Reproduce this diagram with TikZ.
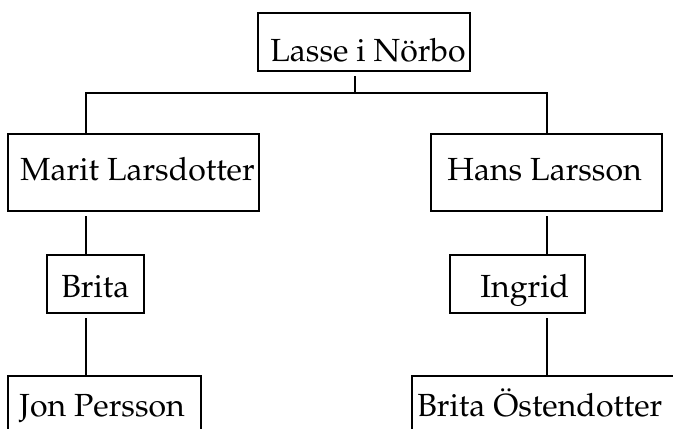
\documentclass[tikz,border=0pt]{standalone}
\usepackage[T1]{fontenc}
\usepackage{mathpazo}

\tikzset{
    person/.style={draw, line width=1.1pt, inner sep=0pt},
    lbl/.style={anchor=base west, inner sep=0pt, font=\fontsize{16}{19}\selectfont},
    link/.style={line width=1.1pt},
}

\begin{document}
\begin{tikzpicture}[x=0.5pt, y=0.5pt]
    \useasboundingbox (0,0) rectangle (673,428);
    \clip (0,0) rectangle (673,428);

    % Boxes (sizes in pt, half of the pixel sizes)
    \node[person, minimum width=106pt, minimum height=29pt] (lasse) at (364,386) {};
    \node[person, minimum width=125.5pt, minimum height=38.5pt] (marit) at (133.5,255.5) {};
    \node[person, minimum width=115.5pt, minimum height=38.5pt] (hans) at (546.5,255.5) {};
    \node[person, minimum width=48.5pt, minimum height=29pt] (brita) at (95.5,144) {};
    \node[person, minimum width=67.5pt, minimum height=29pt] (ingrid) at (517.5,144) {};
    \node[person, minimum width=96.5pt, minimum height=38.5pt] (jon) at (104.5,13.5) {};
    \node[person, minimum width=132pt, minimum height=38.5pt] (ostend) at (544,13.5) {};

    % Names
    \node[lbl] (lasselbl) at (270,366) {Lasse i N\"orbo};
    \node[lbl] (maritlbl) at (20,247) {Marit Larsdotter};
    \node[lbl] (hanslbl) at (447,247) {Hans Larsson};
    \node[lbl] (britalbl) at (61,130.3) {Brita};
    \node[lbl] (ingridlbl) at (480,131) {Ingrid};
    \node[lbl] (jonlbl) at (19,11.3) {Jon Persson};
    \node[lbl] (ostendlbl) at (417,12) {Brita \"Ostendotter};

    % Line positions
    \coordinate (split) at (355,335);
    \coordinate (lx) at (86,0);
    \coordinate (rx) at (547,0);

    % Connectors
    \draw[link, shorten <=2pt] (lasse.south -| split) -- (split);
    \draw[link] (marit.north -| lx) |- (split) -| (hans.north -| rx);
    \draw[link, shorten <=2pt] (marit.south -| lx) -- (brita.north -| lx);
    \draw[link, shorten <=2pt] (brita.south -| lx) -- (jon.north -| lx);
    \draw[link, shorten <=2pt] (hans.south -| rx) -- (ingrid.north -| rx);
    \draw[link, shorten <=2pt] (ingrid.south -| rx) -- (ostend.north -| rx);
\end{tikzpicture}
\end{document}
